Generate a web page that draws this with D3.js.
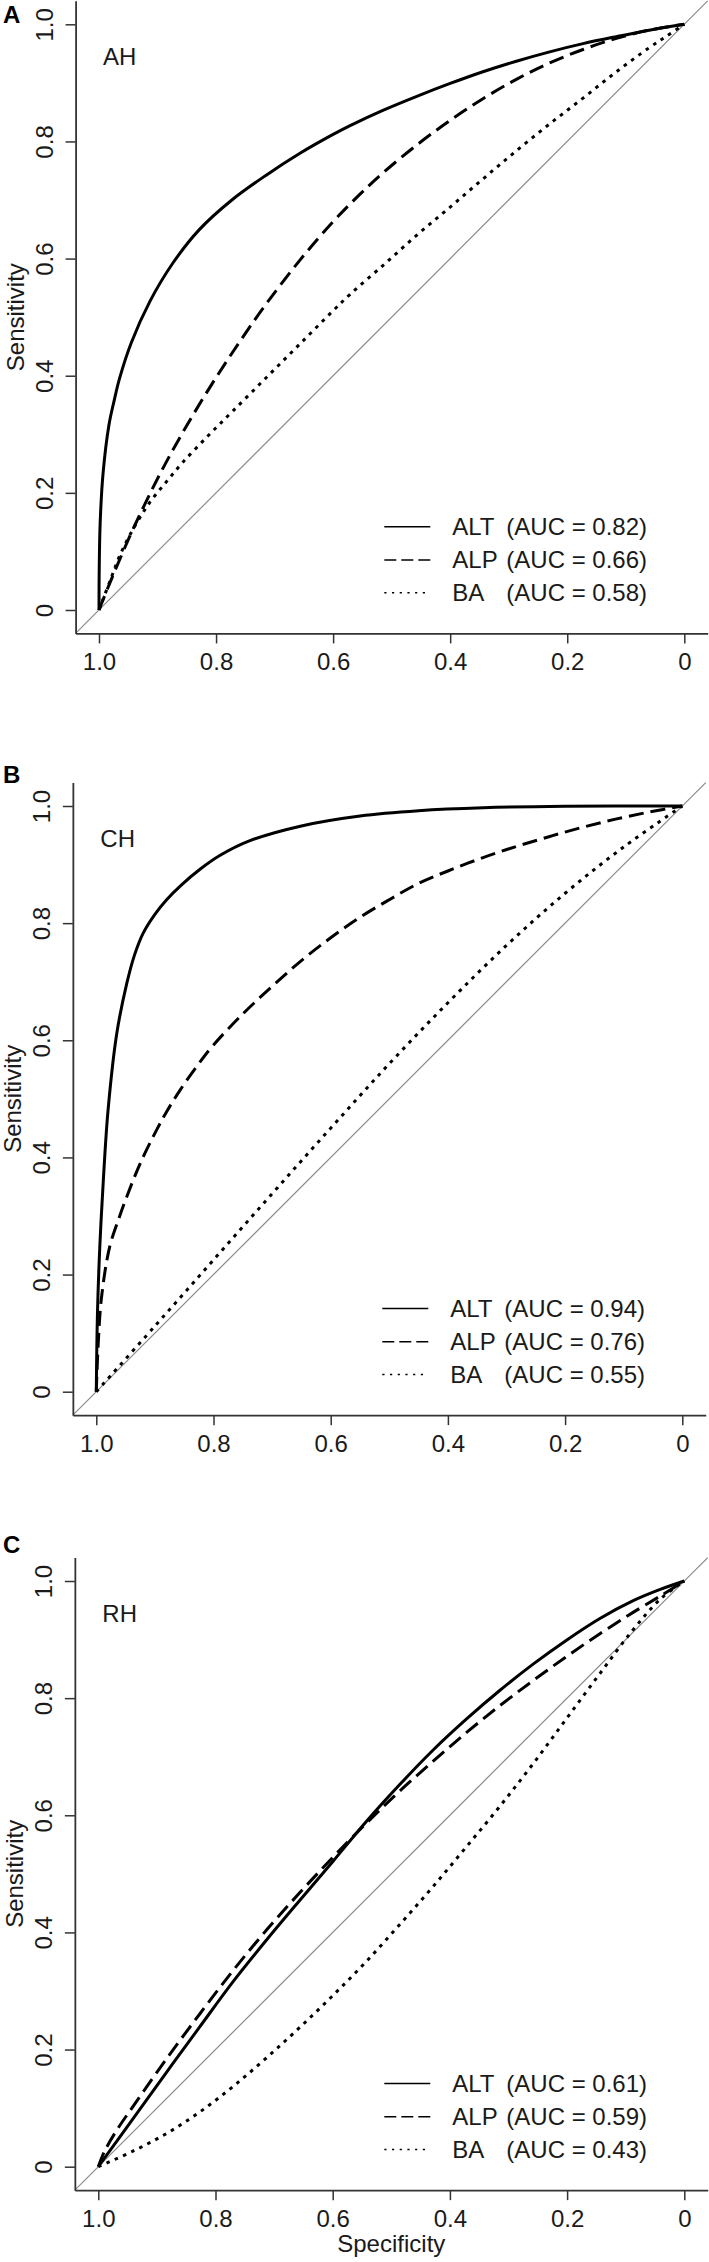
<!DOCTYPE html>
<html><head><meta charset="utf-8">
<script src="https://cdn.jsdelivr.net/npm/d3@7"></script>
<style>body{margin:0;background:#fff} svg{display:block} text{font-family:"Liberation Sans",Arial,Helvetica,sans-serif}</style>
</head><body>
<script>
// ---- data ----
const tickValues = [0, 0.2, 0.4, 0.6, 0.8, 1.0];
const tickLabels = ["0", "0.2", "0.4", "0.6", "0.8", "1.0"];
const panelLetters = ["A", "B", "C"];
const groups = ["AH", "CH", "RH"];
const markers = ["ALT", "ALP", "BA"];
const aucAH = [0.82, 0.66, 0.58];
const aucCH = [0.94, 0.76, 0.55];
const aucRH = [0.61, 0.59, 0.43];

// [specificity, sensitivity]
const AH_ALT = [[1,0],[0.9997,0.063],[0.998,0.149],[0.993,0.234],[0.983,0.316],[0.974,0.358],[0.965,0.395],[0.945,0.456],[0.913,0.527],[0.874,0.592],[0.829,0.649],[0.773,0.700],[0.715,0.742],[0.658,0.779],[0.600,0.812],[0.571,0.827],[0.515,0.853],[0.457,0.877],[0.400,0.899],[0.344,0.919],[0.287,0.937],[0.230,0.953],[0.173,0.967],[0.116,0.979],[0.060,0.990],[0,1]];
const AH_ALP = [[1,0],[0.985,0.0375],[0.970,0.0735],[0.941,0.140],[0.896,0.232],[0.850,0.315],[0.805,0.389],[0.759,0.459],[0.714,0.523],[0.657,0.597],[0.600,0.663],[0.554,0.710],[0.514,0.747],[0.457,0.794],[0.400,0.836],[0.344,0.873],[0.287,0.906],[0.230,0.934],[0.173,0.957],[0.116,0.976],[0.060,0.990],[0,1]];
const AH_BA = [[1,0],[0.981,0.050],[0.964,0.094],[0.939,0.143],[0.913,0.184],[0.884,0.220],[0.856,0.253],[0.814,0.297],[0.771,0.340],[0.714,0.397],[0.657,0.454],[0.600,0.511],[0.571,0.539],[0.514,0.589],[0.457,0.640],[0.400,0.688],[0.344,0.736],[0.287,0.784],[0.230,0.830],[0.173,0.874],[0.116,0.919],[0.060,0.960],[0.030,0.980],[0,1]];
const CH_ALT = [[1,0],[0.998,0.134],[0.994,0.248],[0.988,0.361],[0.98,0.48],[0.965,0.612],[0.948,0.697],[0.935,0.745],[0.92,0.783],[0.9,0.815],[0.88,0.84],[0.855,0.865],[0.823,0.892],[0.79,0.915],[0.74,0.94],[0.65,0.966],[0.55,0.983],[0.45,0.992],[0.34,0.997],[0.2,0.9995],[0,1]];
const CH_ALP = [[1,0],[0.997,0.077],[0.991,0.162],[0.977,0.248],[0.96,0.30],[0.948,0.333],[0.925,0.39],[0.897,0.447],[0.88,0.478],[0.857,0.515],[0.823,0.563],[0.8,0.592],[0.75,0.645],[0.7,0.692],[0.65,0.736],[0.6,0.775],[0.55,0.81],[0.5,0.84],[0.45,0.868],[0.4,0.889],[0.34,0.912],[0.283,0.931],[0.226,0.948],[0.169,0.964],[0.112,0.978],[0.055,0.99],[0,1]];
const CH_BA = [[1,0],[0.9,0.112],[0.8,0.225],[0.7,0.338],[0.6,0.45],[0.5,0.56],[0.4,0.664],[0.3,0.762],[0.2,0.851],[0.1,0.93],[0,1]];
const RH_ALT = [[1,0],[0.94,0.083],[0.883,0.162],[0.826,0.24],[0.77,0.316],[0.713,0.387],[0.656,0.455],[0.599,0.522],[0.543,0.589],[0.486,0.652],[0.429,0.711],[0.372,0.764],[0.315,0.813],[0.258,0.858],[0.201,0.899],[0.144,0.936],[0.088,0.966],[0.04,0.986],[0,1]];
const RH_ALP = [[1,0],[0.99,0.025],[0.97,0.06],[0.94,0.104],[0.883,0.185],[0.826,0.262],[0.77,0.335],[0.713,0.404],[0.656,0.468],[0.599,0.529],[0.543,0.586],[0.486,0.641],[0.429,0.692],[0.372,0.741],[0.315,0.787],[0.258,0.83],[0.201,0.871],[0.144,0.91],[0.088,0.946],[0.04,0.975],[0,1]];
const RH_BA = [[1,0],[0.94,0.027],[0.883,0.057],[0.826,0.094],[0.77,0.137],[0.713,0.186],[0.656,0.238],[0.599,0.293],[0.543,0.35],[0.486,0.413],[0.429,0.478],[0.372,0.546],[0.315,0.615],[0.258,0.688],[0.201,0.765],[0.144,0.842],[0.088,0.916],[0.04,0.97],[0,1]];

// ---- layout ----
const W = 709, H = 2262;
const layout = [
  {x1: 99, x0: 684.3, y0: 610, y1: 24.3, letterY: 23},
  {x1: 96.3, x0: 682.3, y0: 1391.7, y1: 806, letterY: 783},
  {x1: 98.3, x0: 684.3, y0: 2166.7, y1: 1581, letterY: 1553}
];
const curves = [[AH_ALT, AH_ALP, AH_BA], [CH_ALT, CH_ALP, CH_BA], [RH_ALT, RH_ALP, RH_BA]];
const aucs = [aucAH, aucCH, aucRH];
const curveDash = [null, "15,7", "3.5,5.5"];
const legendDash = [null, "12,5", "2.2,5.5"];
const legendRows = [83.3, 50, 17.3];
const FONT = '"Liberation Sans", Arial, Helvetica, sans-serif';
const AXIS = "#333";
const TXT = "#1a1a1a";

const svg = d3.select("body").append("svg").attr("width", W).attr("height", H);

layout.forEach((L, i) => {
  const x = d3.scaleLinear().domain([1, 0]).range([L.x1, L.x0]);
  const y = d3.scaleLinear().domain([0, 1]).range([L.y0, L.y1]);
  const xa = d3.scaleLinear().domain([1.04, -0.04]).range([x(1.04), x(-0.04)]);
  const ya = d3.scaleLinear().domain([-0.04, 1.04]).range([y(-0.04), y(1.04)]);
  const g = svg.append("g");

  // diagonal reference
  g.append("line")
    .attr("x1", x(1.04)).attr("y1", y(-0.04))
    .attr("x2", x(-0.04)).attr("y2", y(1.04))
    .attr("stroke", "#8a8a8a").attr("stroke-width", 1.2);

  // x axis
  const gx = g.append("g").attr("transform", `translate(0,${y(-0.04)})`)
    .call(d3.axisBottom(xa).tickValues(tickValues).tickFormat((d, j) => tickLabels[j]).tickSizeInner(10).tickSizeOuter(0));
  gx.attr("font-family", FONT).attr("font-size", 24);
  gx.select(".domain").attr("stroke", AXIS).attr("stroke-width", 1.8);
  gx.selectAll(".tick line").attr("stroke", AXIS).attr("stroke-width", 1.5);
  gx.selectAll(".tick text").attr("fill", TXT).attr("y", 36.7).attr("dy", 0);

  // y axis
  const gy = g.append("g").attr("transform", `translate(${x(1.04)},0)`)
    .call(d3.axisLeft(ya).tickValues(tickValues).tickFormat((d, j) => tickLabels[j]).tickSizeInner(10).tickSizeOuter(0));
  gy.attr("font-family", FONT).attr("font-size", 24);
  gy.select(".domain").attr("stroke", AXIS).attr("stroke-width", 1.8);
  gy.selectAll(".tick line").attr("stroke", AXIS).attr("stroke-width", 1.5);
  gy.selectAll(".tick text").attr("fill", TXT).attr("x", 0).attr("dy", 0)
    .attr("text-anchor", "middle").attr("transform", "translate(-22.7,0) rotate(-90)");

  // axis titles
  g.append("text").attr("transform", `translate(${x(1.04) - 52},${(ya.range()[0] + ya.range()[1]) / 2}) rotate(-90)`)
    .attr("text-anchor", "middle").attr("font-size", 24).attr("fill", TXT).text("Sensitivity");
  if (i === 2) {
    g.append("text").attr("x", (xa.range()[0] + xa.range()[1]) / 2).attr("y", 2252)
      .attr("text-anchor", "middle").attr("font-size", 24).attr("fill", TXT).text("Specificity");
  }

  // panel letter and group label
  g.append("text").attr("x", 3).attr("y", L.letterY).attr("font-size", 24).attr("font-weight", "bold").attr("fill", "#000").text(panelLetters[i]);
  g.append("text").attr("x", x(1) + 4).attr("y", y(1) + 41).attr("font-size", 24).attr("fill", TXT).text(groups[i]);

  // curves
  const line = d3.line().x(d => x(d[0])).y(d => y(d[1])).curve(d3.curveCatmullRom.alpha(0.5));
  curves[i].forEach((c, k) => {
    g.append("path").attr("d", line(c)).attr("fill", "none").attr("stroke", "#000")
      .attr("stroke-width", 3).attr("stroke-linejoin", "round")
      .attr("stroke-dasharray", curveDash[k]);
  });

  // legend
  markers.forEach((m, k) => {
    const ly = y(0) - legendRows[k];
    g.append("line").attr("x1", x(0) - 300).attr("x2", x(0) - 254).attr("y1", ly).attr("y2", ly)
      .attr("stroke", "#000").attr("stroke-width", 1.5).attr("stroke-dasharray", legendDash[k]);
    g.append("text").attr("x", x(0) - 232).attr("y", ly).attr("dy", "0.35em")
      .attr("font-size", 24).attr("fill", TXT).text(m);
    g.append("text").attr("x", x(0) - 178).attr("y", ly).attr("dy", "0.35em")
      .attr("font-size", 24).attr("fill", TXT).text(`(AUC = ${aucs[i][k].toFixed(2)})`);
  });
});
</script>
</body></html>
